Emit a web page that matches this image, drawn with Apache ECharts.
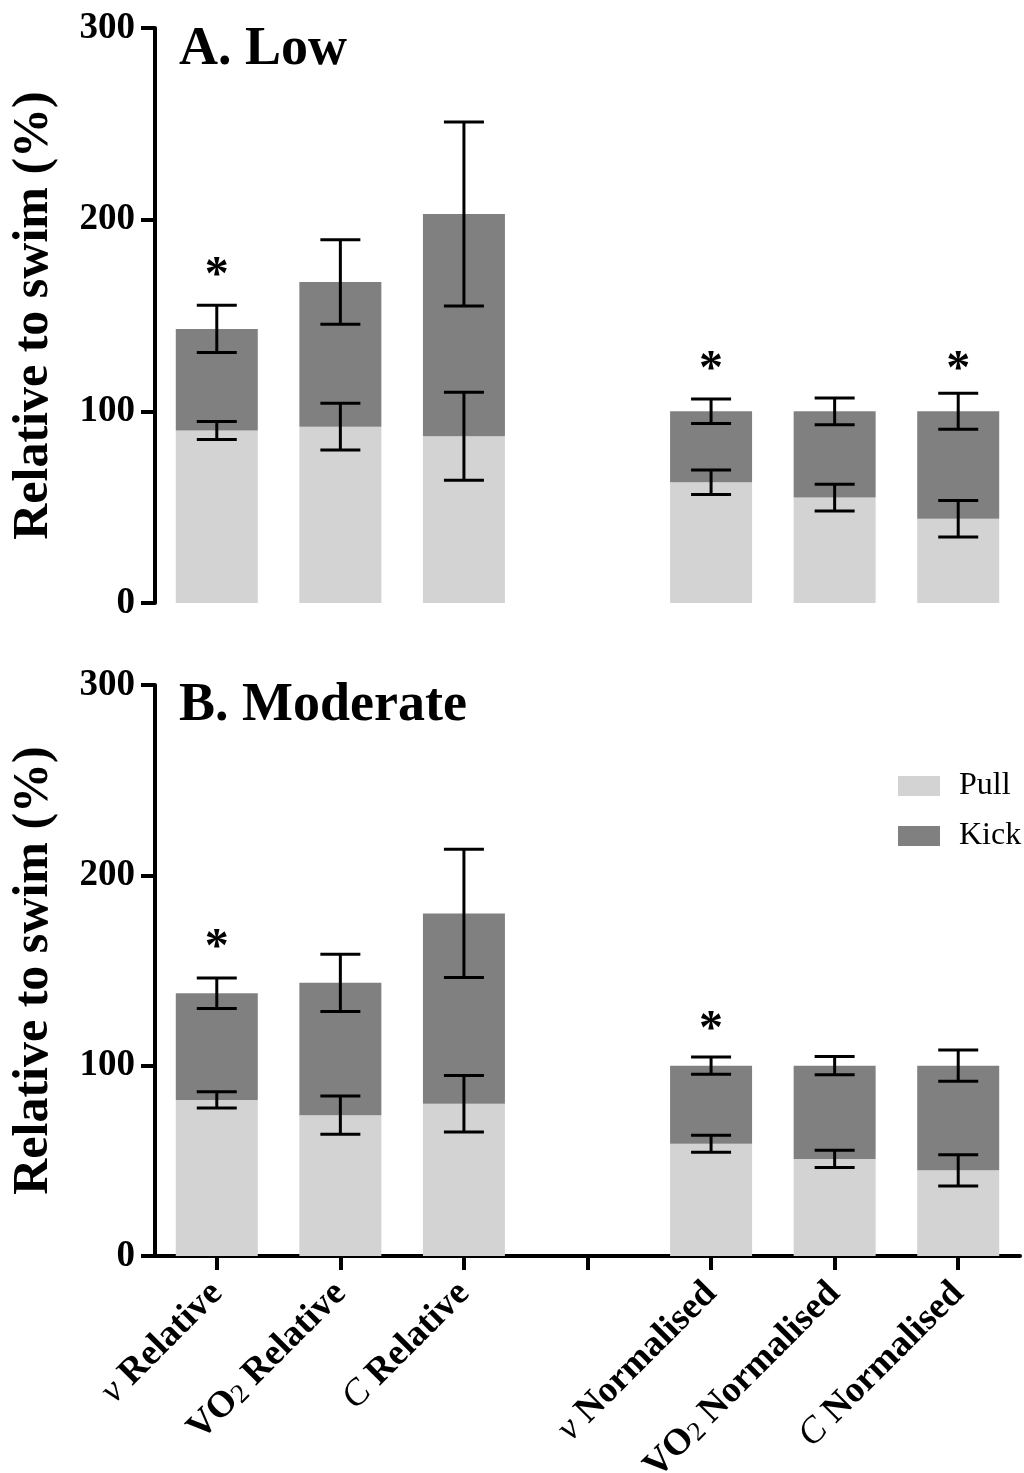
<!DOCTYPE html>
<html>
<head>
<meta charset="utf-8">
<script src="https://cdn.jsdelivr.net/npm/echarts@6/dist/echarts.min.js"></script>
<style>
html,body{margin:0;padding:0;background:#fff;}
#chart{width:1024px;height:1473px;}
</style>
</head>
<body>
<div id="chart"></div>
<script>
// ---- data ----
const categories = ['v Relative', 'VO2 Relative', 'C Relative', '', 'v Normalised', 'VO2 Normalised', 'C Normalised'];
const yTicks = [0, 100, 200, 300];

// Panel A (Low)
const pullA = [90, 92, 87, null, 63, 55, 44];
const kickA = [53, 75.5, 116, null, 37, 45, 56];
const pullErrA = [4.7, 12.2, 23, null, 6.4, 7, 9.5];
const kickErrA = [12.3, 22, 48, null, 6.4, 7, 9.4];
const starA = [175, null, null, null, 126, null, 126];

// Panel B (Moderate)
const pullB = [82, 74, 80, null, 59, 51, 45];
const kickB = [56, 69.5, 100, null, 41, 49, 55];
const pullErrB = [4.3, 10, 14.8, null, 4.5, 4.5, 8.2];
const kickErrB = [8, 15, 33.7, null, 4.5, 4.8, 8.2];
const starB = [166, null, null, null, 123, null, null];

const titles = ['A. Low', 'B. Moderate'];
const seriesNames = ['Pull', 'Kick'];
const colors = ['#d3d3d3', '#808080'];

// ---- helpers ----
const FONT = '"Liberation Serif", "Times New Roman", serif';

function labelFmt(v) {
  if (!v) return '';
  const i = v.indexOf(' ');
  const sym = v.slice(0, i), rest = v.slice(i + 1);
  let s;
  if (sym === 'v') s = '{it|\u03bd}';
  else if (sym === 'C') s = '{it|C}';
  else if (sym === 'VO2') s = '{b|VO}{sub|2}';
  else s = '{b|' + sym + '}';
  return s + '{b| ' + rest + '}';
}

function errData(base, seg, err, stacked) {
  const out = [];
  for (let i = 0; i < base.length; i++) {
    if (base[i] == null) continue;
    const c = stacked ? base[i] + seg[i] : base[i];
    out.push([i, c, err[i]]);
  }
  return out;
}
function starData(arr) {
  const out = [];
  arr.forEach((v, i) => { if (v != null) out.push([i, v]); });
  return out;
}

function errRender(params, api) {
  const x = api.value(0), c = api.value(1), e = api.value(2);
  const top = api.coord([x, c + e]);
  const bot = api.coord([x, c - e]);
  const hw = 20;
  const st = { stroke: '#000', lineWidth: 3 };
  return {
    type: 'group',
    children: [
      { type: 'line', shape: { x1: top[0], y1: top[1], x2: bot[0], y2: bot[1] }, style: st },
      { type: 'line', shape: { x1: top[0] - hw, y1: top[1], x2: top[0] + hw, y2: top[1] }, style: st },
      { type: 'line', shape: { x1: bot[0] - hw, y1: bot[1], x2: bot[0] + hw, y2: bot[1] }, style: st }
    ]
  };
}
function starRender(params, api) {
  const p = api.coord([api.value(0), api.value(1)]);
  return {
    type: 'text',
    style: {
      text: '*', x: p[0], y: p[1] + 9,
      font: 'bold 48px ' + FONT, fill: '#000',
      textAlign: 'center', textVerticalAlign: 'middle'
    }
  };
}

const grids = [
  { left: 155, top: 28, width: 865, height: 575, containLabel: false, outerBoundsMode: 'none' },
  { left: 155, top: 685, width: 865, height: 571, containLabel: false, outerBoundsMode: 'none' }
];

const yAxisCommon = {
  type: 'value', min: yTicks[0], max: yTicks[yTicks.length - 1], interval: 100,
  splitLine: { show: false },
  axisLine: { show: true, lineStyle: { color: '#000', width: 4 } },
  axisTick: { show: true, length: 14, lineStyle: { color: '#000', width: 4 } },
  axisLabel: { color: '#000', fontFamily: FONT, fontWeight: 'bold', fontSize: 37, margin: 20 },
  name: 'Relative to swim (%)', nameLocation: 'middle', nameGap: 96,
  nameTextStyle: { color: '#000', fontFamily: FONT, fontWeight: 'bold', fontSize: 50 }
};

const option = {
  animation: false,
  backgroundColor: '#fff',
  grid: grids,
  title: [
    { text: titles[0], left: 174, top: 18, textStyle: { fontFamily: FONT, fontWeight: 'bold', fontSize: 54, color: '#000' } },
    { text: titles[1], left: 174, top: 674, textStyle: { fontFamily: FONT, fontWeight: 'bold', fontSize: 54, color: '#000' } }
  ],
  legend: {
    data: seriesNames, orient: 'vertical', left: 893, top: 765,
    itemWidth: 42, itemHeight: 20, itemGap: 18,
    icon: 'rect',
    textStyle: { fontFamily: FONT, fontSize: 32, color: '#000', padding: [0, 0, 0, 14] }
  },
  xAxis: [
    { type: 'category', gridIndex: 0, data: categories, show: false },
    {
      type: 'category', gridIndex: 1, data: categories,
      axisLine: { show: true, lineStyle: { color: '#000', width: 4 } },
      axisTick: { show: true, alignWithLabel: true, interval: 0, length: 14, lineStyle: { color: '#000', width: 4 } },
      axisLabel: {
        interval: 0, rotate: 45, margin: 32, color: '#000',
        formatter: labelFmt,
        rich: {
          b: { fontFamily: FONT, fontWeight: 'bold', fontSize: 37, color: '#000' },
          it: { fontFamily: FONT, fontStyle: 'italic', fontSize: 37, color: '#000' },
          sub: { fontFamily: FONT, fontSize: 27, color: '#000', verticalAlign: 'bottom', padding: [10, 0, 0, 0] }
        }
      }
    }
  ],
  yAxis: [
    Object.assign({ gridIndex: 0 }, yAxisCommon),
    Object.assign({ gridIndex: 1 }, yAxisCommon)
  ],
  series: [
    { name: 'Pull', type: 'bar', stack: 'a', xAxisIndex: 0, yAxisIndex: 0, data: pullA, barWidth: 82, itemStyle: { color: colors[0] } },
    { name: 'Kick', type: 'bar', stack: 'a', xAxisIndex: 0, yAxisIndex: 0, data: kickA, barWidth: 82, itemStyle: { color: colors[1] } },
    { name: 'Pull', type: 'bar', stack: 'b', xAxisIndex: 1, yAxisIndex: 1, data: pullB, barWidth: 82, itemStyle: { color: colors[0] } },
    { name: 'Kick', type: 'bar', stack: 'b', xAxisIndex: 1, yAxisIndex: 1, data: kickB, barWidth: 82, itemStyle: { color: colors[1] } },
    { type: 'custom', xAxisIndex: 0, yAxisIndex: 0, renderItem: errRender, data: errData(pullA, kickA, pullErrA, false), z: 10 },
    { type: 'custom', xAxisIndex: 0, yAxisIndex: 0, renderItem: errRender, data: errData(pullA, kickA, kickErrA, true), z: 10 },
    { type: 'custom', xAxisIndex: 1, yAxisIndex: 1, renderItem: errRender, data: errData(pullB, kickB, pullErrB, false), z: 10 },
    { type: 'custom', xAxisIndex: 1, yAxisIndex: 1, renderItem: errRender, data: errData(pullB, kickB, kickErrB, true), z: 10 },
    { type: 'custom', xAxisIndex: 0, yAxisIndex: 0, renderItem: starRender, data: starData(starA), z: 10 },
    { type: 'custom', xAxisIndex: 1, yAxisIndex: 1, renderItem: starRender, data: starData(starB), z: 10 }
  ]
};

const chart = echarts.init(document.getElementById('chart'), null, { renderer: 'canvas' });
chart.setOption(option);
</script>
</body>
</html>
